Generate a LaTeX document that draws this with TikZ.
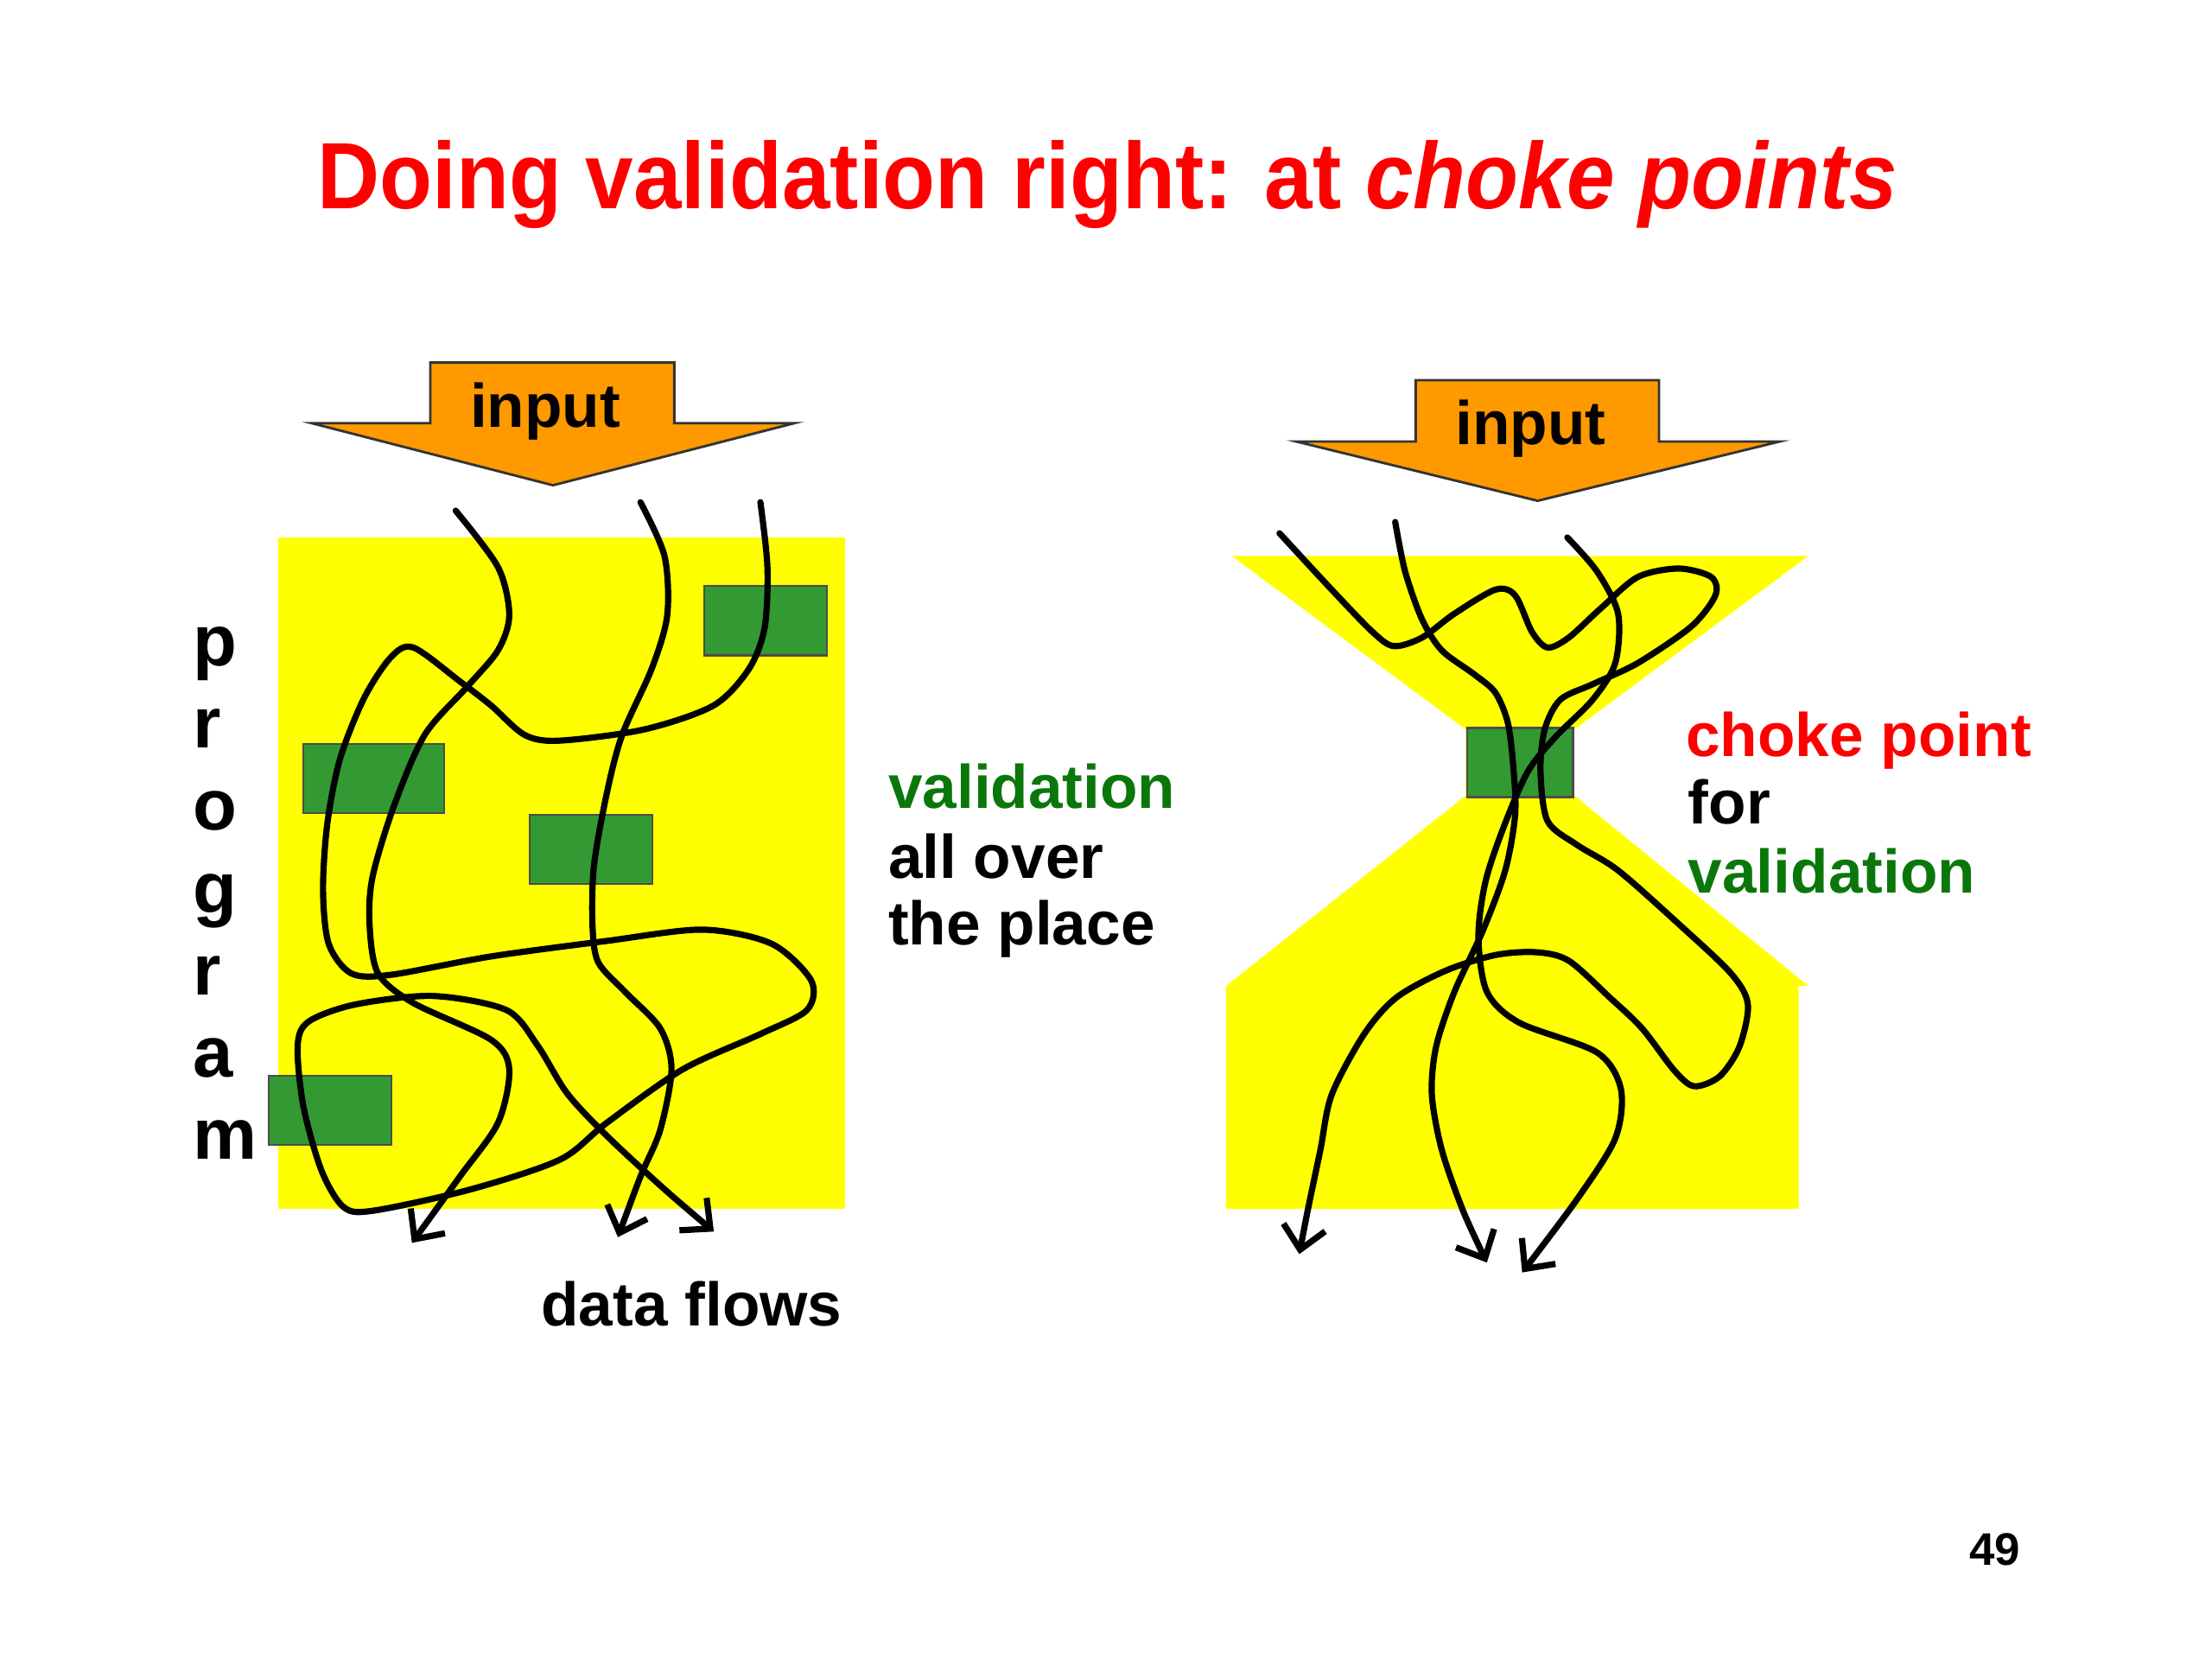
\documentclass[tikz,border=0pt]{standalone}
\usepackage{fontspec}
\setmainfont{Liberation Sans}
\usepackage{xcolor}
\usetikzlibrary{arrows.meta, positioning}

\definecolor{inorange}{HTML}{FF9900}
\definecolor{progyellow}{HTML}{FFFF00}
\definecolor{chkgreen}{HTML}{339933}
\definecolor{txtgreen}{HTML}{0B770B}

\begin{document}
\begin{tikzpicture}[x=0.01cm, y=-0.01cm,
        inarr/.style={draw=black!80, line width=0.5pt, fill=inorange},
        chk/.style={rectangle, draw=black!70, line width=0.4pt, fill=chkgreen, minimum height=0.49cm, inner sep=0pt},
        flow/.style={line width=1.25pt, line cap=round, -{Straight Barb[length=1.6mm, width=3mm]}},
        lbl/.style={font=\fontsize{12.4}{13.5}\selectfont\bfseries, inner sep=0pt, anchor=base west},
    ]
    \useasboundingbox (0,0) rectangle (1568,1176);

    % title
    \node[anchor=base, text=red, font=\fontsize{19}{22}\selectfont\bfseries] (ttl) at (785,148)
        {\scalebox{0.915}[1]{Doing validation right: at \textit{choke points}}};

    % left: validation all over the place
    \draw[inarr] (305,257) -- (478,257) -- (478,300) -- (563,300) -- (392,344)
        -- (221,300) -- (305,300) -- cycle;
    \node[lbl] (inL) at (332.5,303) {input};
    \fill[progyellow] (197,381) rectangle (599,857);
    \node[chk, minimum width=0.87cm] (c1) at (542.5,440) {};
    \node[chk, minimum width=1.0cm] (c2) at (265,552) {};
    \node[chk, minimum width=0.87cm] (c3) at (419,602) {};
    \node[chk, minimum width=0.87cm] (c4) at (234,787) {};

    \draw[flow] plot[smooth] coordinates {(323,362) (353,402) (361,436) (353,461) (331,487)
        (301,521) (279,572) (264,622) (262,656) (268,690) (293,711) (348,737) (361,758)
        (353,796) (326,834) (292,881)};
    \draw[flow] plot[smooth] coordinates {(454,356) (471,394) (473,436) (462,474) (441,521)
        (430,563) (421,614) (420,656) (424,682) (443,703) (468,729) (476,758) (468,801)
        (454,834) (438,877)};
    \draw[flow] plot[smooth] coordinates {(539,356) (544,402) (542,445) (531,474) (506,500)
        (457,517) (397,525) (372,521) (348,500) (326,483) (293,459) (277,466) (258,495)
        (241,538) (232,584) (229,631) (233,669) (249,690) (277,691) (348,678) (430,667)
        (498,659) (547,669) (575,695) (572,716) (539,733) (484,758) (430,796) (397,822)
        (334,843) (266,858) (244,856) (228,830) (215,784) (211,741) (219,724) (252,712)
        (307,706) (359,716) (381,741) (402,775) (430,805) (471,843) (506,873)};

    \foreach \ch [count=\i] in {p,r,o,g,r,a,m}
        \node[anchor=base west, inner sep=0pt, font=\fontsize{14.5}{16}\selectfont\bfseries]
            (prog\i) at (136,{472+58.3*(\i-1)}) {\ch};

    \node[lbl, text=txtgreen] (va1) at (629,573) {validation};
    \node[lbl] (va2) at (629,622.5) {all over};
    \node[lbl] (va3) at (629,670) {the place};
    \node[lbl] (df) at (383,940) {data flows};

    % right: one choke point
    \draw[inarr] (1003.5,269.5) -- (1176,269.5) -- (1176,313) -- (1261.5,313) -- (1090,355)
        -- (919,313) -- (1003.5,313) -- cycle;
    \node[lbl] (inR) at (1031,315) {input};
    \fill[progyellow] (873,394) -- (1282,394) -- (1116,517) -- (1116,564) -- (1282,699)
        -- (1275,699) -- (1275,857) -- (869,857) -- (869,699) -- (1039,564) -- (1039,517) -- cycle;
    \node[chk, minimum width=0.75cm] (cp) at (1077.5,540.5) {};

    \draw[flow] plot[smooth] coordinates {(907,378) (944,418) (973,448) (988,458) (1008,452)
        (1031,435) (1060,418) (1074,422) (1086,448) (1097,459) (1112,452) (1135,431)
        (1161,409) (1190,403) (1213,409) (1216,422) (1199,444) (1161,470) (1129,485)
        (1106,496) (1095,517) (1092,547) (1097,582) (1118,599) (1147,617) (1190,655)
        (1227,690) (1239,712) (1233,742) (1219,763) (1201,770) (1187,759) (1164,729)
        (1141,707) (1112,681) (1089,675) (1060,677) (1025,688) (990,707) (967,733)
        (944,776) (936,815) (927,858) (921,889)};
    \draw[flow] plot[smooth] coordinates {(989,370) (996,405) (1008,439) (1022,461) (1045,478)
        (1060,491) (1069,513) (1073,547) (1074,578) (1067,617) (1051,660) (1031,703)
        (1018,742) (1015,776) (1022,815) (1037,858) (1054,895)};
    \draw[flow] plot[smooth] coordinates {(1111,381) (1132,405) (1147,435) (1145,470) (1129,496)
        (1103,522) (1083,547) (1066,586) (1053,625) (1048,664) (1054,703) (1077,725)
        (1132,746) (1149,772) (1145,807) (1118,850) (1079,902)};

    \node[lbl, text=red] (ck1) at (1194.5,536) {choke point};
    \node[lbl] (ck2) at (1196,584) {for};
    \node[lbl, text=txtgreen] (ck3) at (1196,633) {validation};

    \node[anchor=base, inner sep=0pt, font=\fontsize{9.2}{11}\selectfont\bfseries] (pg) at (1414,1109.5) {49};
\end{tikzpicture}
\end{document}
